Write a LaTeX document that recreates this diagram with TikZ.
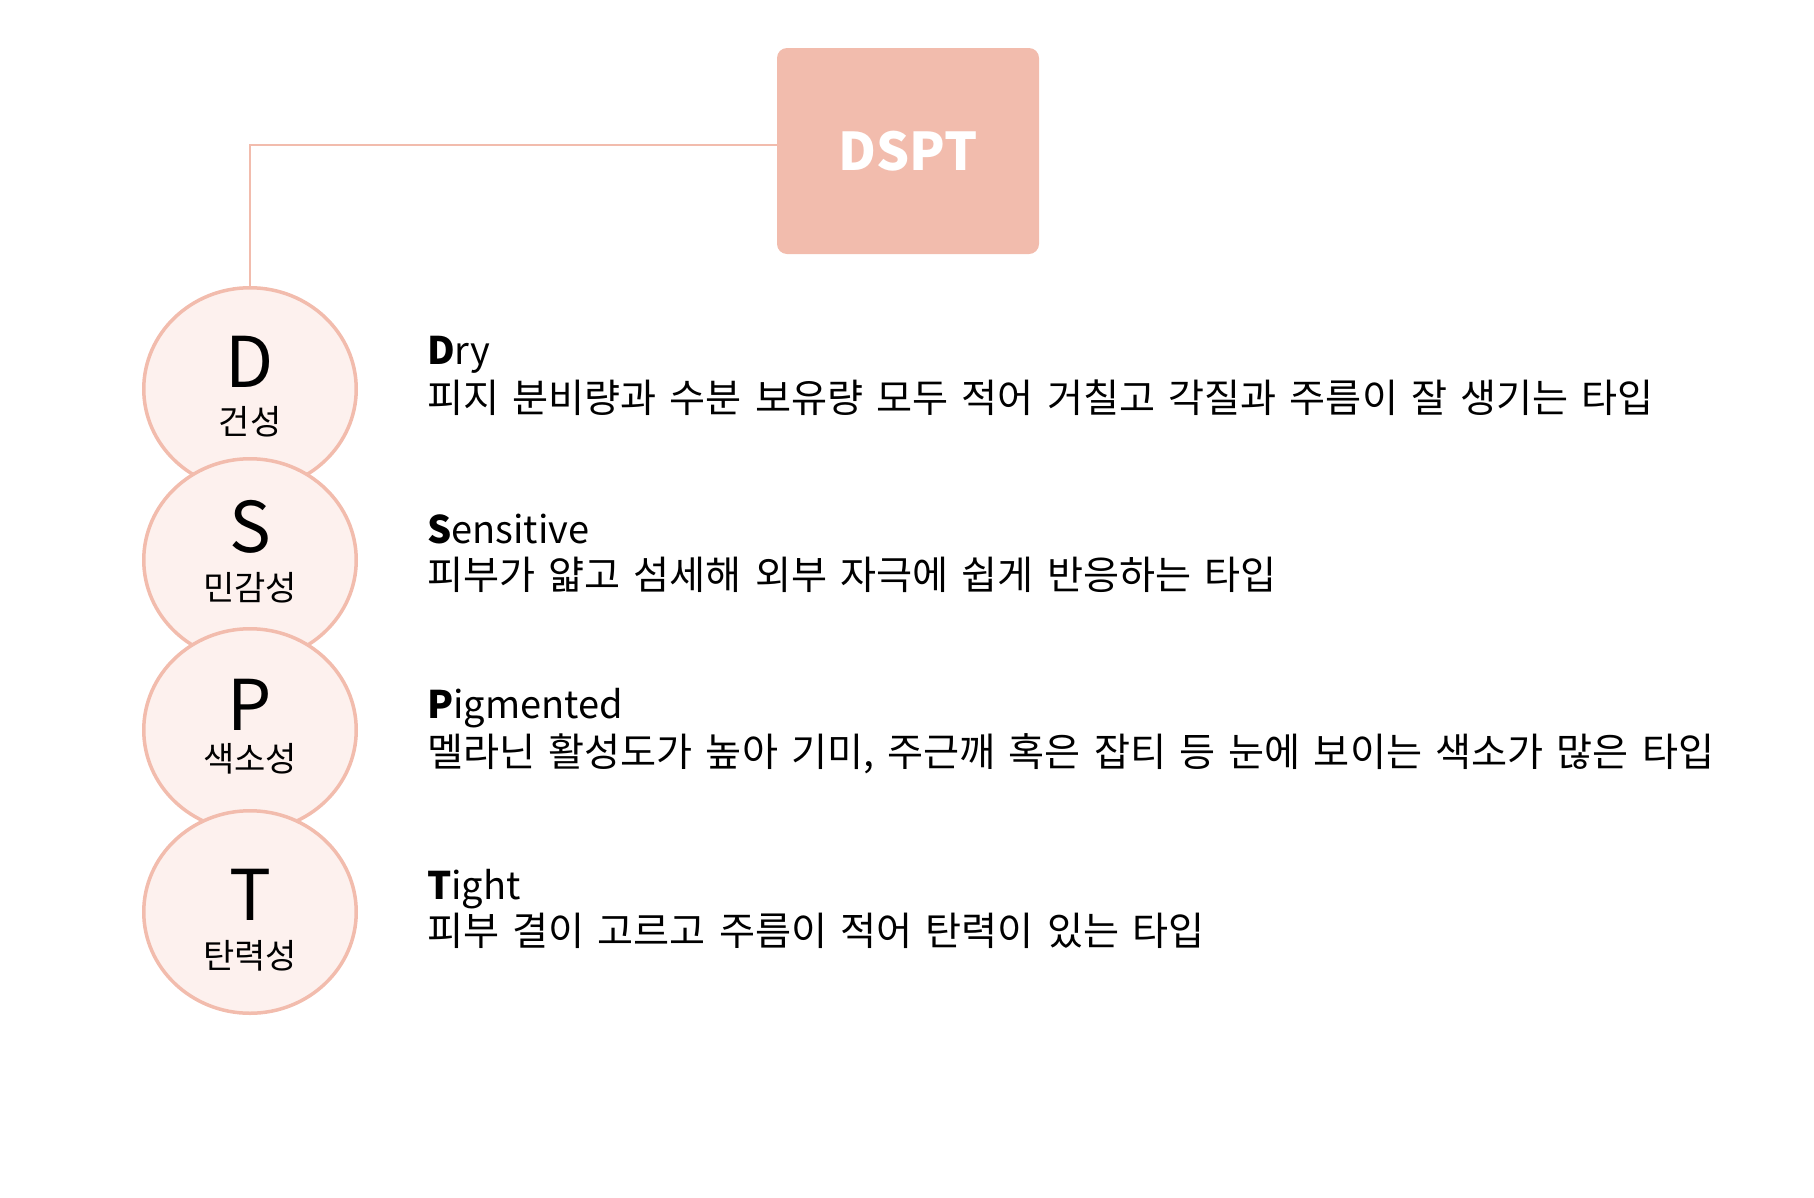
\documentclass[tikz,border=0pt]{standalone}
\usepackage{fontspec}
\setmainfont{Noto Sans CJK KR}
\newfontfamily\descfont{Noto Sans CJK KR}[WordSpace=1.5]
\usetikzlibrary{shapes.geometric}
\definecolor{salmon}{HTML}{F2BCAD}
\definecolor{blush}{HTML}{FDF1EE}
\begin{document}
\begin{tikzpicture}[x=1pt,y=-1pt,
  bub/.style={ellipse,draw=salmon,line width=3.5pt,fill=blush,minimum width=212.5pt,minimum height=202.5pt,inner sep=0pt},
  letter/.style={font=\fontsize{70}{72}\selectfont,inner sep=0pt},
  kor/.style={font=\fontsize{34}{36}\selectfont,inner sep=0pt},
  ttl/.style={anchor=base west,inner sep=0pt,font=\fontsize{38}{42}\selectfont},
  dsc/.style={anchor=base west,inner sep=0pt,font=\descfont\fontsize{39.2}{42}\selectfont}]
\useasboundingbox (0,0) rectangle (1814,1197);
\node[fill=salmon,rounded corners=10pt,minimum width=262pt,minimum height=206pt,inner sep=0pt,
  text=white,font=\fontsize{52}{56}\bfseries] (box) at (908,151) {DSPT};
\node[bub] (d) at (250,389) {};
\node[bub] (s) at (250,560) {};
\node[bub] (p) at (250,730) {};
\node[bub] (t) at (250,912) {};
\draw[salmon,line width=1.2pt] ([yshift=6pt]box.west) -| (d.north);
\node[letter] (dl) at (250,362) {D};
\node[kor] (dk) at (250,422) {건성};
\node[letter] (sl) at (250,527) {S};
\node[kor] (sk) at (250,588) {민감성};
\node[letter] (pl) at (250,705) {P};
\node[kor] (pk) at (250,759) {색소성};
\node[letter] (tl) at (250,895) {T};
\node[kor] (tk) at (250,956) {탄력성};
\node[ttl] (dt) at (427,364) {\textbf{D}ry};
\node[dsc] (dd) at (427,412) {피지 분비량과 수분 보유량 모두 적어 거칠고 각질과 주름이 잘 생기는 타입};
\node[ttl] (st) at (427,543) {\textbf{S}ensitive};
\node[dsc] (sd) at (427,589) {피부가 얇고 섬세해 외부 자극에 쉽게 반응하는 타입};
\node[ttl] (pt) at (427,718) {\textbf{P}igmented};
\node[dsc] (pd) at (427,766) {멜라닌 활성도가 높아 기미, 주근깨 혹은 잡티 등 눈에 보이는 색소가 많은 타입};
\node[ttl] (tt) at (427,899) {\textbf{T}ight};
\node[dsc] (td) at (427,945) {피부 결이 고르고 주름이 적어 탄력이 있는 타입};
\end{tikzpicture}
\end{document}
